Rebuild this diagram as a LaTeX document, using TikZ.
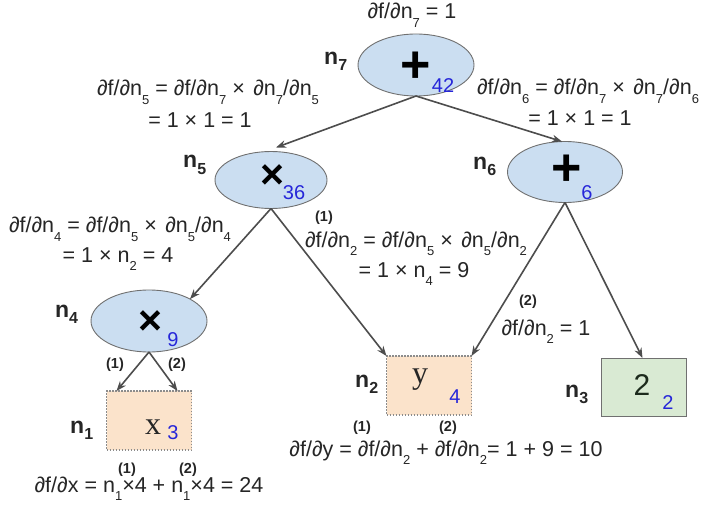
\documentclass[tikz,border=0pt]{standalone}
\usepackage{fontspec}
\usepackage{graphicx}
\setmainfont{Liberation Sans}
\newfontfamily\seriffont{Liberation Serif}
\usetikzlibrary{shapes.geometric,arrows.meta}
\definecolor{edgec}{HTML}{4D4D4D}
\definecolor{bordc}{HTML}{707070}
\definecolor{dotc}{HTML}{8C8C8C}
\definecolor{bluefill}{HTML}{CBDEF1}
\definecolor{orfill}{HTML}{FBE3CB}
\definecolor{grfill}{HTML}{D9EAD3}
\definecolor{valblue}{HTML}{2626D9}
\definecolor{darkgr}{HTML}{1C2A1C}
\newcommand\sbs[1]{\raisebox{-0.38em}{\fontsize{13}{13}\selectfont #1}}
\newcommand\lsb[1]{\raisebox{-6pt}{\fontsize{16}{16}\selectfont\bfseries #1}}
\newcommand\dsp{\ \hspace{0.12em}}
\tikzset{
  opnode/.style={ellipse, draw=bordc, line width=0.9pt, fill=bluefill, outer sep=0pt, inner sep=0pt},
  leafbox/.style={rectangle, draw=dotc, line width=1.5pt, dash pattern=on 1.5pt off 1.5pt, fill=orfill, outer sep=0pt, inner sep=0pt, minimum width=85, minimum height=59},
  constbox/.style={rectangle, draw=bordc, line width=0.9pt, fill=grfill, outer sep=0pt, inner sep=0pt, minimum width=85, minimum height=58},
  edge/.style={draw=edgec, line width=1.6pt, -{Stealth[length=10pt,width=7.5pt]}},
  formula/.style={font=\fontsize{21.5}{21.5}\selectfont, anchor=base, inner sep=0pt, text=black!85},
  small/.style={font=\fontsize{14.5}{14.5}\selectfont\bfseries, inner sep=0pt, text=black!85},
  nlabel/.style={font=\fontsize{23}{23}\selectfont\bfseries, anchor=base west, inner sep=0pt, text=black!85},
  val/.style={font=\fontsize{20}{20}\selectfont, text=valblue, inner sep=0pt},
  plussym/.style={font=\fontsize{52}{52}\selectfont\bfseries, inner sep=0pt},
  timessym/.style={font=\fontsize{41}{41}\selectfont\bfseries, inner sep=0pt},
  letsym/.style={font=\fontsize{32}{32}\seriffont, inner sep=0pt, text=black!85},
}
\begin{document}
\begin{tikzpicture}[x=1pt,y=-1pt]
\useasboundingbox[fill=white] (0,0) rectangle (709,505);

% operation nodes
\node[opnode, minimum width=116, minimum height=62] (n7) at (416,65) {};
\node[opnode, minimum width=112, minimum height=57] (n5) at (271,180) {};
\node[opnode, minimum width=115, minimum height=61] (n6) at (565,172) {};
\node[opnode, minimum width=116, minimum height=62] (n4) at (149,321) {};
% leaves
\node[leafbox] (n1) at (149,420.5) {};
\node[leafbox] (n2) at (429,385.5) {};
\node[constbox] (n3) at (643.5,387) {};

% symbols
\node[plussym] (s7) at (416,67) {+};
\node[timessym] (s5) at (272,177) {×};
\node[plussym] (s6) at (567,170) {+};
\node[timessym] (s4) at (150,323) {×};
\node[letsym] (s1) at (153,427) {x};
\node[letsym] (s2) at (420,380) {y};
\node[font=\fontsize{30}{30}\selectfont, text=darkgr, inner sep=0pt] (s3) at (642,385) {2};

% values
\node[val] (v7) at (443,86) {42};
\node[val] (v5) at (294,193) {36};
\node[val] (v6) at (587,193) {6};
\node[val] (v4) at (173,340) {9};
\node[val] (v1) at (173,433) {3};
\node[val] (v2) at (455,397) {4};
\node[val] (v3) at (668,403) {2};

% node labels
\node[nlabel] (l7) at (324,65) {n\lsb{7}};
\node[nlabel] (l5) at (183,168) {n\lsb{5}};
\node[nlabel] (l6) at (473,170) {n\lsb{6}};
\node[nlabel] (l4) at (55,317) {n\lsb{4}};
\node[nlabel] (l1) at (70,433) {n\lsb{1}};
\node[nlabel] (l2) at (355,387) {n\lsb{2}};
\node[nlabel] (l3) at (565,397) {n\lsb{3}};

% edges
\draw[edge] (n7.south) -- ([xshift=5pt,yshift=4pt]n5.north);
\draw[edge] (n7.south) -- ([xshift=-3pt]n6.north);
\draw[edge] (n5.south) -- (n4.north east);
\draw[edge] (n5.south) -- (n2.north west);
\draw[edge] (n6.south) -- (n2.north east);
\draw[edge] (n6.south) -- ([xshift=-1pt]n3.north);
\draw[edge] (n4.south) -- ([xshift=10pt]n1.north west);
\draw[edge] (n4.south) -- ([xshift=-14pt]n1.north east);

% formulas
\node[formula] (f0) at (412,19) {∂f/∂n\sbs{7} = 1};
\node[formula] (f5a) at (208,96) {∂f/∂n\sbs{5} = ∂f/∂n\sbs{7} ×\dsp∂n\sbs{7}/∂n\sbs{5}};
\node[formula] (f5b) at (200,128) {= 1 × 1 = 1};
\node[formula] (f6a) at (588,95) {∂f/∂n\sbs{6} = ∂f/∂n\sbs{7} ×\dsp∂n\sbs{7}/∂n\sbs{6}};
\node[formula] (f6b) at (580,126) {= 1 × 1 = 1};
\node[formula] (f4a) at (120,233) {∂f/∂n\sbs{4} = ∂f/∂n\sbs{5} ×\dsp∂n\sbs{5}/∂n\sbs{4}};
\node[formula] (f4b) at (118,262) {= 1 × n\sbs{2} = 4};
\node[small] (p1a) at (324,218) {(1)};
\node[formula] (f2a) at (416,247) {∂f/∂n\sbs{2} = ∂f/∂n\sbs{5} ×\dsp∂n\sbs{5}/∂n\sbs{2}};
\node[formula] (f2b) at (414,277) {= 1 × n\sbs{4} = 9};
\node[small] (p2a) at (528,302) {(2)};
\node[formula] (f2c) at (546,335) {∂f/∂n\sbs{2} = 1};
\node[small] (p1b) at (115,365) {(1)};
\node[small] (p2b) at (177,365) {(2)};
\node[small] (p1c) at (362,428) {(1)};
\node[small] (p2c) at (448,428) {(2)};
\node[formula] (fy) at (446,456) {∂f/∂y = ∂f/∂n\sbs{2} + ∂f/∂n\sbs{2}= 1 + 9 = 10};
\node[small] (p1d) at (127,470) {(1)};
\node[small] (p2d) at (188,470) {(2)};
\node[formula] (fx) at (149,492) {∂f/∂x = n\sbs{1}×4 + n\sbs{1}×4 = 24};
\end{tikzpicture}
\end{document}
